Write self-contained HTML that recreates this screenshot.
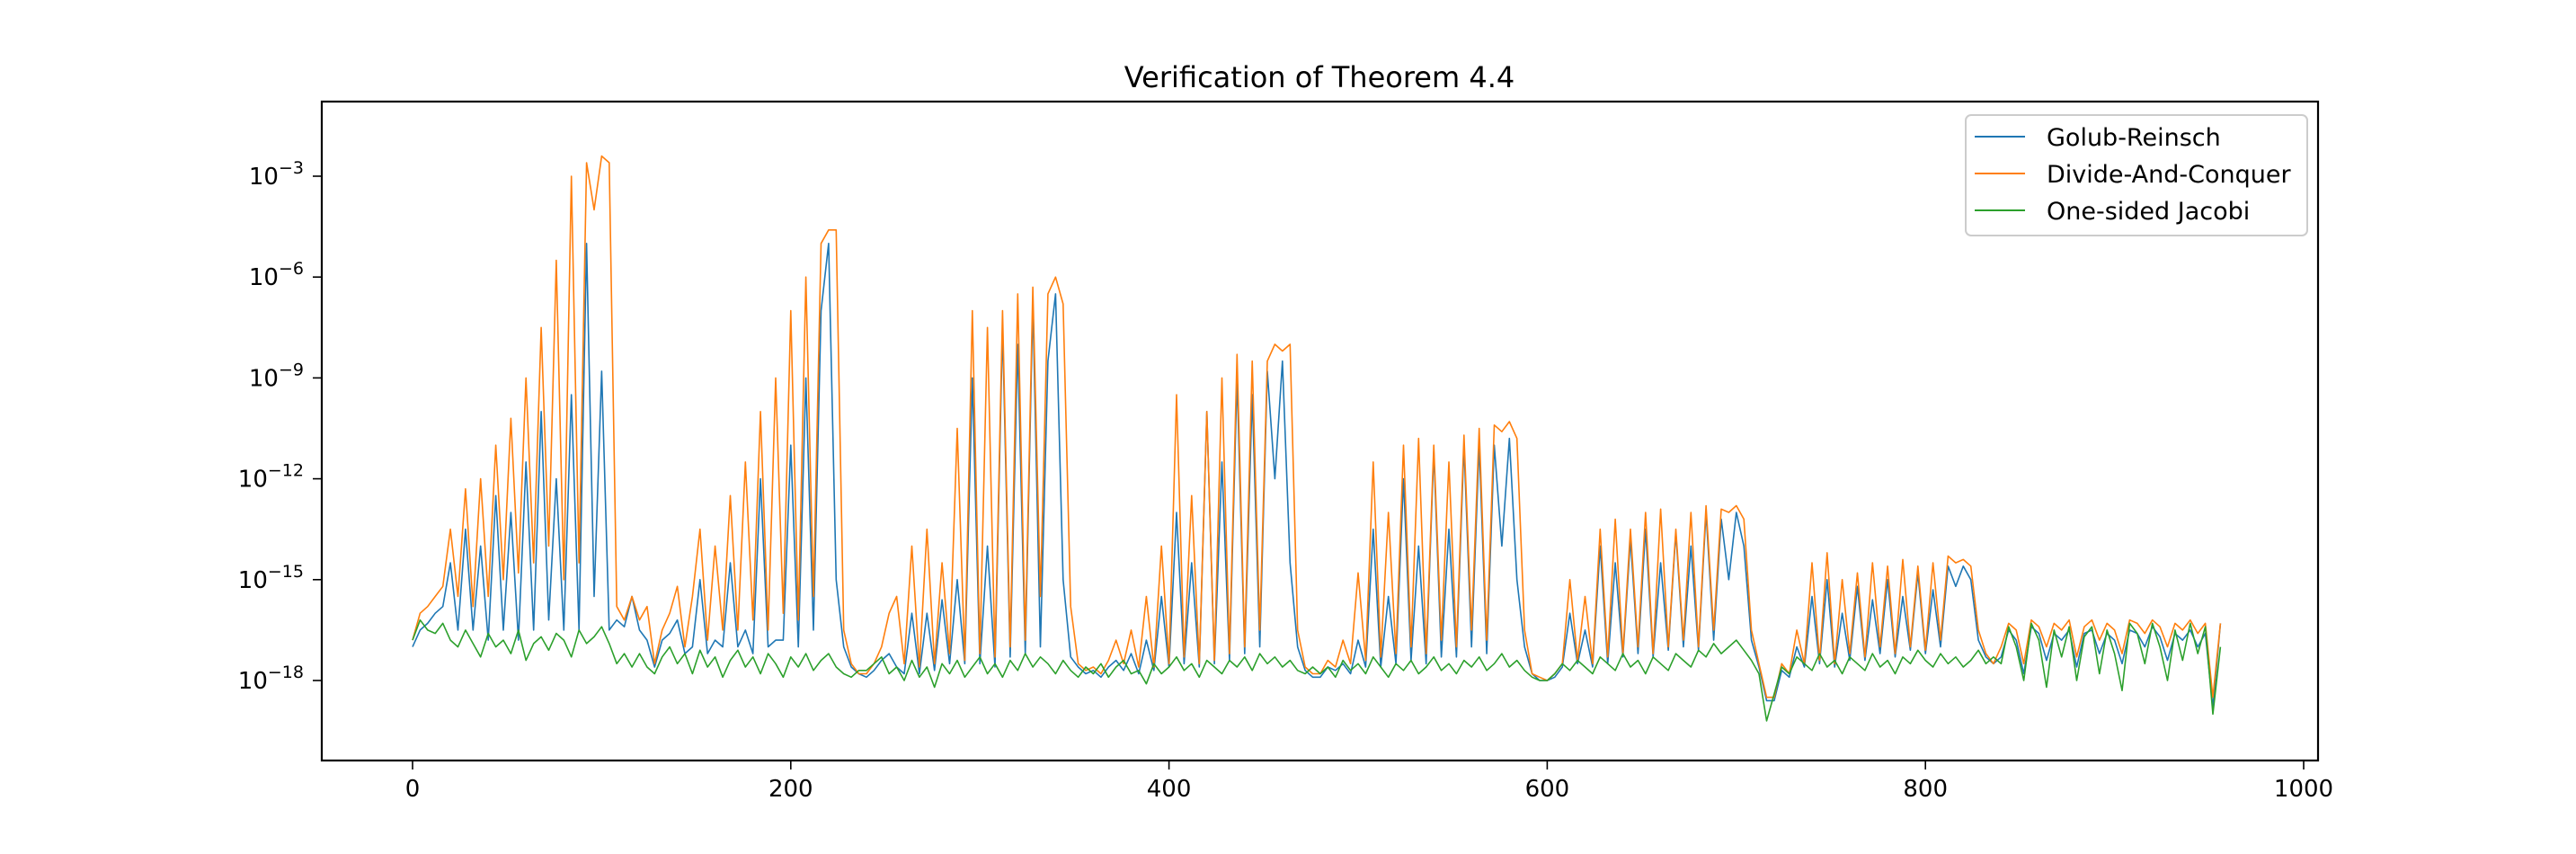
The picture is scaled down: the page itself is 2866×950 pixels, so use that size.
<!DOCTYPE html>
<html><head><meta charset="utf-8">
<style>
html,body{margin:0;padding:0;background:#fff;}
svg{display:block;font-family:"DejaVu Sans","Liberation Sans",sans-serif;}
</style></head>
<body>
<svg id="chart" width="2866" height="950" viewBox="0 0 2866 950">
<rect x="0" y="0" width="2866" height="950" fill="#fff"/>
<text x="1468" y="97" font-size="32" text-anchor="middle">Verification of Theorem 4.4</text>
<g id="plot"></g>
<rect x="358" y="113" width="2221" height="733" fill="none" stroke="#000" stroke-width="2.2"/>
<g id="xticks"></g>
<g id="yticks"></g>
<g>
<rect x="2187" y="128" width="380" height="134" rx="6" fill="#fff" fill-opacity="0.8" stroke="#ccc" stroke-width="2"/>
<line x1="2197" y1="152" x2="2253" y2="152" stroke="#1f77b4" stroke-width="2"/>
<text x="2277" y="162" font-size="27">Golub-Reinsch</text>
<line x1="2197" y1="193" x2="2253" y2="193" stroke="#ff7f0e" stroke-width="2"/>
<text x="2277" y="203" font-size="27">Divide-And-Conquer</text>
<line x1="2197" y1="234" x2="2253" y2="234" stroke="#2ca02c" stroke-width="2"/>
<text x="2277" y="244" font-size="27">One-sided Jacobi</text>
</g>
</svg>
<script>
// log10 of error values, sampled every 4 matrices (x = index*4)
const xStep = 4;
const xTicks = [0, 200, 400, 600, 800, 1000];
const yTicks = [-18, -15, -12, -9, -6, -3];
const golubReinsch = [
-17,-16.5,-16.3,-16,-15.8,-14.5,-16.5,-13.5,-16.5,-14,-16.8,-12.5,-16.5,-13,-16.8,-11.5,-16.5,-10,-16.2,-12,-16.5,-9.5,-16.5,-5,-15.5,-8.8,-16.5,-16.2,-16.4,-15.5,
-16.5,-16.8,-17.6,-16.8,-16.6,-16.2,-17.2,-17,-15,-17.2,-16.8,-17,-14.5,-17,-16.5,-17.2,-12,-17,-16.8,-16.8,-11,-17,-9,-16.5,-7,-5,-15,-17,-17.6,-17.8,
-17.9,-17.7,-17.4,-17.2,-17.6,-17.8,-16,-17.8,-16,-17.7,-15.6,-17.5,-15,-17.5,-9,-17.5,-14,-17.6,-7.5,-17.3,-8,-17.2,-6.8,-17,-8.5,-6.5,-15,-17.3,-17.6,-17.8,
-17.7,-17.9,-17.6,-17.4,-17.7,-17.2,-17.8,-16.8,-17.7,-15.5,-17.6,-13,-17.5,-14.5,-17.6,-10,-17.5,-11.5,-17.4,-9,-17.2,-9.5,-17,-8.8,-12,-8.5,-14.5,-17,-17.7,-17.9,
-17.9,-17.6,-17.7,-17.5,-17.8,-16.8,-17.6,-13.5,-17.6,-15.5,-17.5,-12,-17.4,-14,-17.5,-11.2,-17.3,-13.5,-17.3,-11,-17,-11,-17.2,-11,-14,-10.8,-15,-17,-17.8,-18,
-18,-17.9,-17.6,-16,-17.5,-16.5,-17.6,-14,-17.5,-14.5,-17.3,-13.8,-17.2,-13.5,-17.3,-14.5,-17.1,-13.6,-17,-14,-17.1,-13,-16.8,-13.2,-15,-13,-14,-16.8,-17.6,-18.6,
-18.6,-17.7,-17.9,-17,-17.6,-15.5,-17.5,-15,-17.6,-16,-17.4,-15.2,-17.4,-15.6,-17.2,-15,-17.3,-15.5,-17.1,-14.8,-17.2,-15.3,-17,-14.6,-15.2,-14.6,-15,-16.8,-17.3,-17.5,
-17.3,-16.5,-16.8,-17.8,-16.4,-16.6,-17.4,-16.6,-16.8,-16.5,-17.6,-16.6,-16.5,-17.2,-16.6,-16.8,-17.5,-16.5,-16.6,-17,-16.4,-16.7,-17.4,-16.6,-16.8,-16.5,-17,-16.6,-18.8,-16.3];
const divideAndConquer = [
-16.8,-16,-15.8,-15.5,-15.2,-13.5,-15.5,-12.3,-15.8,-12,-15.5,-11,-15,-10.2,-14.8,-9,-14.5,-7.5,-14,-5.5,-15,-3,-14.5,-2.6,-4,-2.4,-2.6,-15.8,-16.2,-15.5,
-16.2,-15.8,-17.5,-16.5,-16,-15.2,-17,-15.5,-13.5,-16.8,-14,-16.5,-12.5,-16.5,-11.5,-16.2,-10,-16.5,-9,-16,-7,-16.2,-6,-15.5,-5,-4.6,-4.6,-16.5,-17.5,-17.8,
-17.8,-17.5,-17,-16,-15.5,-17.5,-14,-17.6,-13.5,-17.5,-14.5,-17.2,-10.5,-17.4,-7,-17.2,-7.5,-17.3,-7,-17,-6.5,-16.8,-6.3,-15.5,-6.5,-6,-6.8,-15.8,-17.5,-17.7,
-17.6,-17.8,-17.4,-16.8,-17.5,-16.5,-17.6,-15.5,-17.6,-14,-17.5,-9.5,-17.3,-12.5,-17.5,-10,-17.4,-9,-17.2,-8.3,-17,-8.5,-16.5,-8.5,-8,-8.2,-8,-16.5,-17.6,-17.8,
-17.8,-17.4,-17.6,-16.8,-17.5,-14.8,-17.4,-11.5,-17.3,-13,-17.2,-11,-17,-10.8,-17.2,-11,-16.8,-11.5,-17,-10.7,-16.5,-10.5,-16.8,-10.4,-10.6,-10.3,-10.8,-16.5,-17.8,-17.9,
-18,-17.8,-17.5,-15,-17.4,-15.5,-17.5,-13.5,-17.3,-13.2,-17.2,-13.5,-17,-13,-17.2,-12.9,-17,-13.5,-16.8,-13,-17,-12.8,-16.5,-12.9,-13,-12.8,-13.2,-16.5,-17.5,-18.5,
-18.5,-17.5,-17.8,-16.5,-17.5,-14.5,-17.4,-14.2,-17.5,-15,-17.2,-14.8,-17.3,-14.5,-17,-14.6,-17.2,-14.4,-17,-14.6,-17.1,-14.5,-16.8,-14.3,-14.5,-14.4,-14.6,-16.5,-17.2,-17.5,
-17,-16.3,-16.5,-17.5,-16.2,-16.4,-17,-16.3,-16.5,-16.2,-17.3,-16.4,-16.2,-16.8,-16.3,-16.5,-17.2,-16.2,-16.3,-16.6,-16.2,-16.4,-17,-16.3,-16.5,-16.2,-16.6,-16.3,-18.5,-16.3];
const oneSidedJacobi = [
-16.8,-16.2,-16.5,-16.6,-16.3,-16.8,-17,-16.5,-16.9,-17.3,-16.6,-17,-16.8,-17.2,-16.5,-17.4,-16.9,-16.7,-17.1,-16.6,-16.8,-17.3,-16.5,-16.9,-16.7,-16.4,-16.9,-17.5,-17.2,-17.6,
-17.2,-17.6,-17.8,-17.3,-17,-17.5,-17.2,-17.8,-17.1,-17.6,-17.3,-17.9,-17.4,-17.1,-17.6,-17.3,-17.8,-17.2,-17.5,-17.9,-17.3,-17.6,-17.2,-17.7,-17.4,-17.2,-17.6,-17.8,-17.9,-17.7,
-17.7,-17.5,-17.3,-17.8,-17.6,-18,-17.4,-17.9,-17.6,-18.2,-17.5,-17.8,-17.4,-17.9,-17.6,-17.3,-17.8,-17.5,-17.9,-17.4,-17.7,-17.2,-17.6,-17.3,-17.5,-17.8,-17.4,-17.7,-17.9,-17.6,
-17.8,-17.5,-17.9,-17.6,-17.4,-17.8,-17.7,-18.1,-17.5,-17.8,-17.6,-17.3,-17.7,-17.5,-17.9,-17.4,-17.6,-17.8,-17.4,-17.6,-17.3,-17.7,-17.2,-17.5,-17.3,-17.6,-17.4,-17.7,-17.8,-17.6,
-17.8,-17.6,-17.9,-17.4,-17.7,-17.5,-17.8,-17.3,-17.6,-17.9,-17.5,-17.7,-17.4,-17.8,-17.6,-17.3,-17.7,-17.5,-17.8,-17.4,-17.6,-17.3,-17.7,-17.5,-17.2,-17.6,-17.4,-17.7,-17.9,-18,
-18,-17.8,-17.5,-17.7,-17.4,-17.6,-17.8,-17.3,-17.5,-17.7,-17.2,-17.6,-17.4,-17.8,-17.3,-17.5,-17.7,-17.2,-17.4,-17.6,-17.1,-17.3,-16.9,-17.2,-17,-16.8,-17.1,-17.4,-17.8,-19.2,
-18.4,-17.6,-17.8,-17.3,-17.5,-17.7,-17.2,-17.6,-17.4,-17.8,-17.3,-17.5,-17.7,-17.2,-17.6,-17.4,-17.8,-17.3,-17.5,-17.1,-17.4,-17.6,-17.2,-17.5,-17.3,-17.6,-17.4,-17.1,-17.5,-17.3,
-17.5,-16.4,-17,-18,-16.3,-16.8,-18.2,-16.5,-17.3,-16.4,-18,-16.7,-16.4,-17.8,-16.5,-17.2,-18.3,-16.3,-16.6,-17.5,-16.3,-17,-18,-16.5,-17.4,-16.3,-17.2,-16.4,-19,-17];

const NS = 'http://www.w3.org/2000/svg';
function xPix(v){ return 459 + (v/1000)*2104; }
function yPix(e){ return 196 + (-3 - e)*37.4; }

const plot = document.getElementById('plot');
function drawSeries(vals, color, name){
  const pts = vals.map((v,i)=>xPix(i*xStep).toFixed(1)+','+yPix(v).toFixed(1)).join(' ');
  const pl = document.createElementNS(NS,'polyline');
  pl.setAttribute('points', pts);
  pl.setAttribute('fill','none');
  pl.setAttribute('stroke', color);
  pl.setAttribute('stroke-width','1.6');
  pl.setAttribute('stroke-linejoin','round');
  
  
  plot.appendChild(pl);
}
drawSeries(golubReinsch, '#1f77b4', 'golub-reinsch-line');
drawSeries(divideAndConquer, '#ff7f0e', 'divide-and-conquer-line');
drawSeries(oneSidedJacobi, '#2ca02c', 'one-sided-jacobi-line');

const xg = document.getElementById('xticks');
xTicks.forEach(t=>{
  const x = xPix(t);
  const l = document.createElementNS(NS,'line');
  l.setAttribute('x1',x); l.setAttribute('x2',x);
  l.setAttribute('y1',846); l.setAttribute('y2',856);
  l.setAttribute('stroke','#000'); l.setAttribute('stroke-width','1.6');
  
  
  xg.appendChild(l);
  const tx = document.createElementNS(NS,'text');
  tx.setAttribute('x',x); tx.setAttribute('y',886);
  tx.setAttribute('font-size','26'); tx.setAttribute('text-anchor','middle');
  tx.textContent = t;
  
  
  xg.appendChild(tx);
});
const yg = document.getElementById('yticks');
yTicks.forEach(t=>{
  const y = yPix(t);
  const l = document.createElementNS(NS,'line');
  l.setAttribute('x1',348); l.setAttribute('x2',358);
  l.setAttribute('y1',y); l.setAttribute('y2',y);
  l.setAttribute('stroke','#000'); l.setAttribute('stroke-width','1.6');
  
  
  yg.appendChild(l);
  const tx = document.createElementNS(NS,'text');
  tx.setAttribute('x',338); tx.setAttribute('y',y+9);
  tx.setAttribute('font-size','26'); tx.setAttribute('text-anchor','end');
  const base = document.createElementNS(NS,'tspan');
  base.textContent = '10';
  const sup = document.createElementNS(NS,'tspan');
  sup.setAttribute('dy','-12'); sup.setAttribute('font-size','19');
  sup.textContent = '\u2212' + Math.abs(t);
  tx.appendChild(base); tx.appendChild(sup);
  
  
  yg.appendChild(tx);
});
</script>
</body></html>
